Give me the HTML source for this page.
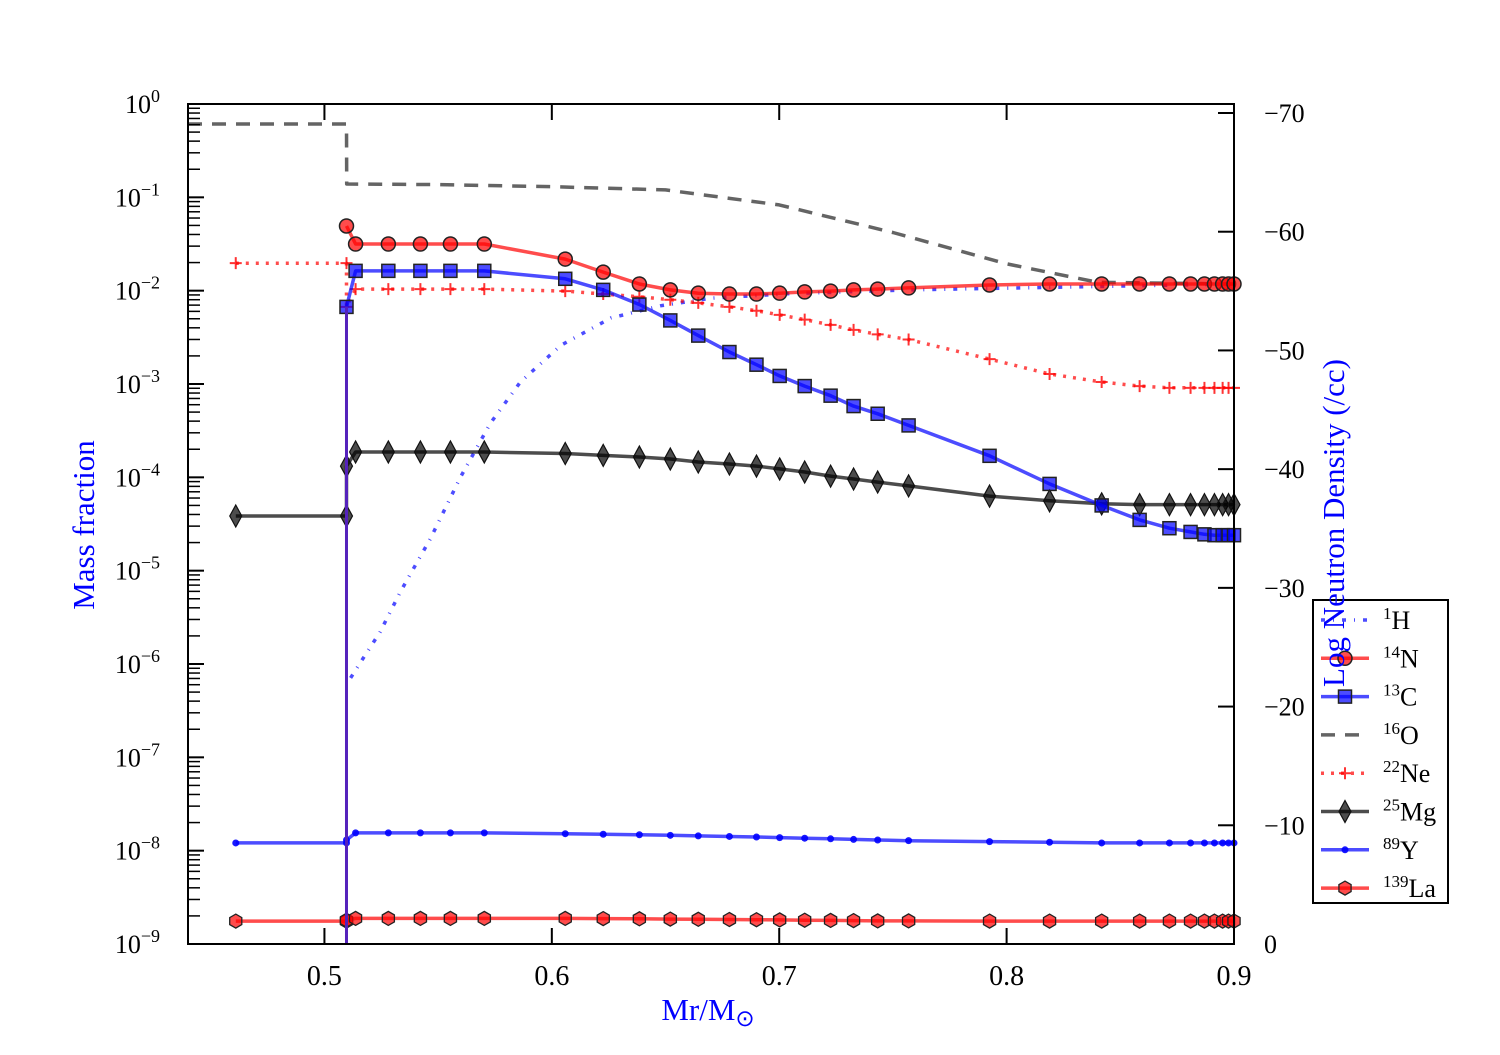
<!DOCTYPE html>
<html><head><meta charset="utf-8"><style>
body{margin:0;background:#fff;}
svg text{font-family:"Liberation Serif",serif;}
</style></head><body>
<svg id="chart" width="1500" height="1050" viewBox="0 0 1500 1050" xmlns="http://www.w3.org/2000/svg">
<rect width="1500" height="1050" fill="#fff"/>
<g id="marks"></g>
<g id="axes"></g>
<g id="legend"></g>
<text x="0" y="0" transform="translate(94,525) rotate(-90)" text-anchor="middle" font-size="31" fill="#0000ff">Mass fraction</text>
<text x="0" y="0" transform="translate(1344,523) rotate(-90)" text-anchor="middle" font-size="31" fill="#0000ff">Log Neutron Density (/cc)</text>
<text x="708" y="1020" text-anchor="middle" font-size="31" fill="#0000ff">Mr/M<tspan font-size="23" dy="6">⊙</tspan></text>
</svg>
<script>
const xGrid=[0.461,0.5097,0.5097,0.5137,0.5281,0.5422,0.5554,0.5703,0.6059,0.6226,0.6385,0.6521,0.6644,0.6781,0.6900,0.7002,0.7112,0.7226,0.7327,0.7433,0.7569,0.7925,0.8189,0.8418,0.8585,0.8716,0.8809,0.8870,0.8914,0.8950,0.8976,0.9];
const n14Vals=[null,null,0.0493,0.0316,0.0316,0.0316,0.0316,0.0316,0.0218,0.0158,0.0118,0.0102,0.0094,0.0092,0.0092,0.0094,0.0097,0.0099,0.0102,0.0104,0.0107,0.0115,0.0118,0.0118,0.0118,0.0118,0.0118,0.0118,0.0118,0.0118,0.0118,0.0118];
const c13Vals=[null,null,0.0067,0.0163,0.0163,0.0163,0.0163,0.0163,0.0134,0.0102,0.0071,0.0048,0.0033,0.0022,0.00161,0.00122,0.00095,0.00075,0.00058,0.00048,0.00036,1.7e-4,8.5e-5,5.0e-5,3.5e-5,2.85e-5,2.6e-5,2.45e-5,2.4e-5,2.4e-5,2.4e-5,2.4e-5];
const ne22Vals=[0.0197,0.0197,0.0067,0.0104,0.0104,0.0104,0.0104,0.0104,0.0099,0.0092,0.0086,0.0080,0.0074,0.0067,0.0061,0.0055,0.0049,0.0043,0.0038,0.0034,0.0030,0.00185,0.00128,0.00105,0.00095,0.00091,0.00091,0.00091,0.00091,0.00091,0.00091,0.00091];
const mg25Vals=[3.85e-5,3.85e-5,1.32e-4,1.87e-4,1.87e-4,1.87e-4,1.87e-4,1.87e-4,1.8e-4,1.72e-4,1.65e-4,1.57e-4,1.46e-4,1.39e-4,1.32e-4,1.23e-4,1.14e-4,1.03e-4,9.6e-5,8.9e-5,8.1e-5,6.3e-5,5.6e-5,5.2e-5,5.1e-5,5.1e-5,5.1e-5,5.1e-5,5.1e-5,5.1e-5,5.1e-5,5.1e-5];
const y89Vals=[1.21e-8,1.21e-8,1.3e-8,1.55e-8,1.55e-8,1.55e-8,1.55e-8,1.55e-8,1.52e-8,1.5e-8,1.48e-8,1.46e-8,1.44e-8,1.42e-8,1.4e-8,1.38e-8,1.36e-8,1.34e-8,1.32e-8,1.3e-8,1.28e-8,1.25e-8,1.23e-8,1.21e-8,1.21e-8,1.21e-8,1.21e-8,1.21e-8,1.21e-8,1.21e-8,1.21e-8,1.21e-8];
const la139Vals=[1.76e-9,1.76e-9,1.8e-9,1.88e-9,1.88e-9,1.88e-9,1.88e-9,1.88e-9,1.88e-9,1.87e-9,1.86e-9,1.85e-9,1.84e-9,1.83e-9,1.82e-9,1.81e-9,1.8e-9,1.79e-9,1.78e-9,1.77e-9,1.77e-9,1.76e-9,1.76e-9,1.76e-9,1.76e-9,1.76e-9,1.76e-9,1.76e-9,1.76e-9,1.76e-9,1.76e-9,1.76e-9];
const o16X=[0.44,0.5097,0.5098,0.55,0.6,0.65,0.7,0.75,0.8,0.84,0.9];
const o16Vals=[0.61,0.61,0.139,0.137,0.13,0.12,0.083,0.042,0.0194,0.0123,0.0118];
const h1X=[0.5115,0.5165,0.5245,0.5335,0.5466,0.5598,0.573,0.5862,0.604,0.626,0.648,0.670,0.7046,0.7574,0.9];
const h1Vals=[7.1e-7,1.1e-6,2.2e-6,6e-6,2.2e-5,1.0e-4,3.8e-4,1.05e-3,2.6e-3,5.1e-3,6.9e-3,8.3e-3,9.3e-3,0.0102,0.0118];
const nDenX=[0.5097,0.5097];
const nDenVals=[-53.7,0];
const xTicks=[0.5,0.6,0.7,0.8,0.9];
const yExps=[0,-1,-2,-3,-4,-5,-6,-7,-8,-9];
const rTicks=[0,-10,-20,-30,-40,-50,-60,-70];

const L=188,R=1234,T=104,B=944;
const X=v=>L+(v-0.44)/(0.9-0.44)*(R-L);
const Y=v=>T+(-Math.log10(v))*(B-T)/9;
const YR=v=>B+v*(B-113)/70;
const NS="http://www.w3.org/2000/svg";
function mk(tag,attrs,parent){const e=document.createElementNS(NS,tag);for(const k in attrs)e.setAttribute(k,attrs[k]);parent.appendChild(e);return e;}
const marks=document.getElementById('marks'),axes=document.getElementById('axes'),leg=document.getElementById('legend');

function line(xs,vs,color,dash,name,yf){
  const pts=[];xs.forEach((x,i)=>{if(vs[i]!=null)pts.push(X(x).toFixed(1)+','+(yf||Y)(vs[i]).toFixed(1));});
  const p=mk('polyline',{points:pts.join(' '),fill:'none',stroke:color,'stroke-width':3.5,'stroke-opacity':0.7,'stroke-dasharray':dash||'none','stroke-linejoin':'round'},marks);
  
  
}
function marker(type,cx,cy,g){
  if(type==='circle')mk('circle',{cx,cy,r:7,fill:'rgba(255,0,0,0.7)',stroke:'#222','stroke-width':1.5},g);
  else if(type==='square')mk('rect',{x:cx-6.5,y:cy-6.5,width:13,height:13,fill:'rgba(0,0,255,0.7)',stroke:'#222','stroke-width':1.5},g);
  else if(type==='plus'){mk('path',{d:`M${cx-6},${cy}H${cx+6}M${cx},${cy-6}V${cy+6}`,stroke:'rgba(255,0,0,0.8)','stroke-width':2},g);}
  else if(type==='diamond')mk('path',{d:`M${cx},${cy-11}L${cx+6},${cy}L${cx},${cy+11}L${cx-6},${cy}Z`,fill:'rgba(0,0,0,0.7)',stroke:'#111','stroke-width':1.2},g);
  else if(type==='dot')mk('circle',{cx,cy,r:3.5,fill:'rgba(0,0,255,0.9)'},g);
  else if(type==='hex'){let d='';for(let k=0;k<6;k++){const a=Math.PI/3*k+Math.PI/6;d+=(k?'L':'M')+(cx+7*Math.cos(a)).toFixed(1)+','+(cy+7*Math.sin(a)).toFixed(1);}mk('path',{d:d+'Z',fill:'rgba(255,0,0,0.7)',stroke:'#222','stroke-width':1.3},g);}
}
function series(vs,color,dash,type,name){
  line(xGrid,vs,color,dash,name+'-line');
  const g=mk('g',{},marks);
  
  
  xGrid.forEach((x,i)=>{if(vs[i]!=null)marker(type,X(x),Y(vs[i]),g);});
}
line(o16X,o16Vals,'#222','14,10','o16-line');
line(h1X,h1Vals,'#0000ff','4,8,1,8','h1-line');
series(ne22Vals,'#ff0000','3,7','plus','ne22');
series(mg25Vals,'#000','none','diamond','mg25');
series(c13Vals,'#0000ff','none','square','c13');
series(n14Vals,'#ff0000','none','circle','n14');
series(y89Vals,'#0000ff','none','dot','y89');
series(la139Vals,'#ff0000','none','hex','la139');
const nd=mk('polyline',{points:nDenX.map((x,i)=>X(x)+','+YR(nDenVals[i])).join(' '),fill:'none',stroke:'#5522bb','stroke-width':3},marks);



const frame=mk('rect',{x:L,y:T,width:R-L,height:B-T,fill:'none',stroke:'#000','stroke-width':2},axes);


xTicks.forEach(v=>{const x=X(v);
  mk('path',{d:`M${x},${B}v-16M${x},${T}v16`,stroke:'#000','stroke-width':2},axes);
  const t=mk('text',{x,y:B+41,'text-anchor':'middle','font-size':28},axes);t.textContent=v.toString();
  
  
});
yExps.forEach(e=>{const y=Y(Math.pow(10,e));
  mk('path',{d:`M${L},${y}h16`,stroke:'#000','stroke-width':2},axes);
  if(e>-9)for(let m=2;m<10;m++){const ym=Y(m*Math.pow(10,e-1));mk('path',{d:`M${L},${ym}h12`,stroke:'#000','stroke-width':1.5},axes);}
  const t=mk('text',{x:L-28,y:y+9,'text-anchor':'end','font-size':26},axes);
  
  
  t.innerHTML='10<tspan dy="-11" font-size="18">'+(e===0?'0':'−'+(-e))+'</tspan>';
});
rTicks.forEach(v=>{const y=YR(v);
  mk('path',{d:`M${R},${y}h-16`,stroke:'#000','stroke-width':2},axes);
  const t=mk('text',{x:1264,y:y+9,'font-size':26},axes);t.textContent=v===0?'0':'−'+(-v);
  
  
});
// legend
mk('rect',{x:1313,y:600,width:135,height:303,fill:'none',stroke:'#000','stroke-width':2},leg);
const legItems=[['1','H','#0000ff','4,8,1,8',null],['14','N','#ff0000','none','circle'],['13','C','#0000ff','none','square'],['16','O','#222','14,10',null],['22','Ne','#ff0000','3,7','plus'],['25','Mg','#000','none','diamond'],['89','Y','#0000ff','none','dot'],['139','La','#ff0000','none','hex']];
legItems.forEach((it,i)=>{const y=620+i*38.3;
  const g=mk('g',{},leg);
  
  
  mk('line',{x1:1321,x2:1369,y1:y,y2:y,stroke:it[2],'stroke-width':3.5,'stroke-opacity':0.7,'stroke-dasharray':it[3]},g);
  if(it[4])marker(it[4],1345,y,g);
  const t=mk('text',{x:1383,y:y+9,'font-size':26},g);
  t.innerHTML='<tspan dy="-10" font-size="17">'+it[0]+'</tspan><tspan dy="10">'+it[1]+'</tspan>';
});
</script>
</body></html>
